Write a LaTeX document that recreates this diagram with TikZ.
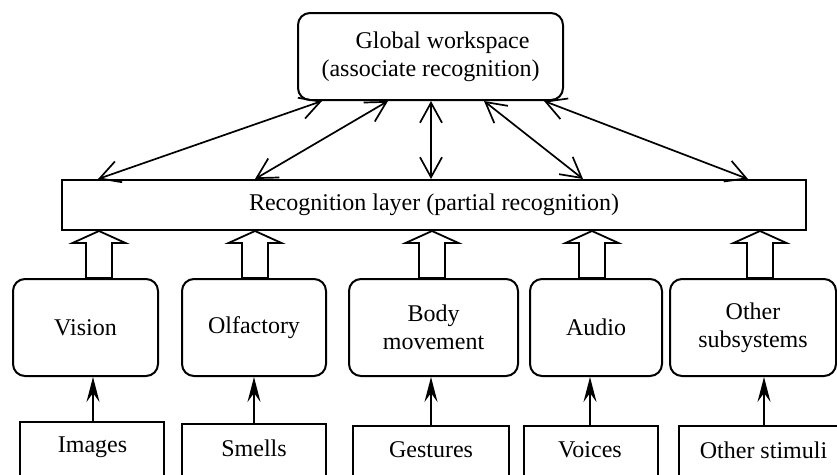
\documentclass[tikz,border=0pt]{standalone}
\usepackage{fontspec}
\setmainfont{Liberation Serif}
\usetikzlibrary{arrows.meta,calc}
\begin{document}
\begin{tikzpicture}[x=1pt,y=-1pt,
  font=\fontsize{24}{28}\selectfont,
  roundbox/.style={draw,line width=2pt,rounded corners=12pt,align=center,inner sep=0pt},
  plainbox/.style={draw,line width=2pt,align=center,inner sep=0pt},
  dbl/.style={line width=1.7pt,{Straight Barb[length=20pt,width=22pt,line width=1.7pt]}-{Straight Barb[length=20pt,width=22pt,line width=1.7pt]}},
  feed/.style={line width=1.7pt,-{Stealth[length=25pt,width=13pt,inset=9pt]}},
  blockarrow/.style={draw,line width=1.8pt,fill=white,line join=miter}]
\clip (0,0) rectangle (837,474);
\fill[white] (0,0) rectangle (837,474);

% top: global workspace
\node[roundbox,minimum width=265pt,minimum height=87pt] (gw) at (430.5,56.5)
  {\hspace*{24pt}Global workspace\\(associate recognition)};

% recognition layer
\node[plainbox,minimum width=744pt,minimum height=50pt] (rec) at (434,205)
  {Recognition layer (partial recognition)};

% subsystems
\node[roundbox,minimum width=145pt,minimum height=97pt] (vis) at (85.5,327.5) {Vision};
\node[roundbox,minimum width=144pt,minimum height=97pt] (olf) at (254,327.5) {Olfactory};
\node[roundbox,minimum width=169pt,minimum height=97pt] (body) at (433.5,327.5) {Body\\movement};
\node[roundbox,minimum width=132pt,minimum height=97pt] (aud) at (596,327.5) {Audio};
\node[roundbox,minimum width=166pt,minimum height=97pt] (oth) at (753,327.5) {Other\\subsystems};

% stimuli (boxes run past the lower edge)
\node[plainbox,minimum width=144pt,minimum height=100pt] (img) at (92,472) {};
\node[plainbox,minimum width=144pt,minimum height=100pt] (sml) at (254,474) {};
\node[plainbox,minimum width=156pt,minimum height=100pt] (ges) at (431,476) {};
\node[plainbox,minimum width=134pt,minimum height=100pt] (voi) at (591,476) {};
\node[plainbox,minimum width=170pt,minimum height=100pt] (ost) at (764,476) {};
\node at (92.5,447) {Images};
\node at (254,448) {Smells};
\node at (431,450) {Gestures};
\node at (590,450) {Voices};
\node at (763.5,450) {Other stimuli};

% stimulus inputs
\draw[feed] (img.north -| 93,0) -- (vis.south -| 93,0);
\draw[feed] (sml.north) -- (olf.south);
\draw[feed] (ges.north) -- (body.south -| ges.north);
\draw[feed] (voi.north -| 590,0) -- (aud.south -| 590,0);
\draw[feed] (ost.north) -- (oth.south -| ost.north);

% block arrows from subsystems into the recognition layer
\foreach \n/\c in {vis/99, olf/255, body/432, aud/592, oth/760}{
  \path (\n.north -| \c,0) coordinate (b);
  \path (rec.south -| \c,0) coordinate (t);
  \draw[blockarrow] ($(b)+(-13,0)$) -- ($(t)+(-13,12)$) -- ($(t)+(-26.5,12)$) -- (t)
     -- ($(t)+(26.5,12)$) -- ($(t)+(13,12)$) -- ($(b)+(13,0)$) -- cycle;
}

% two-way links between workspace and recognition layer
\foreach \a/\b in {322/98, 388/255, 431/431, 484/583, 544/748}{
  \draw[dbl] (gw.south -| \a,0) -- (rec.north -| \b,0);
}
\end{tikzpicture}
\end{document}
